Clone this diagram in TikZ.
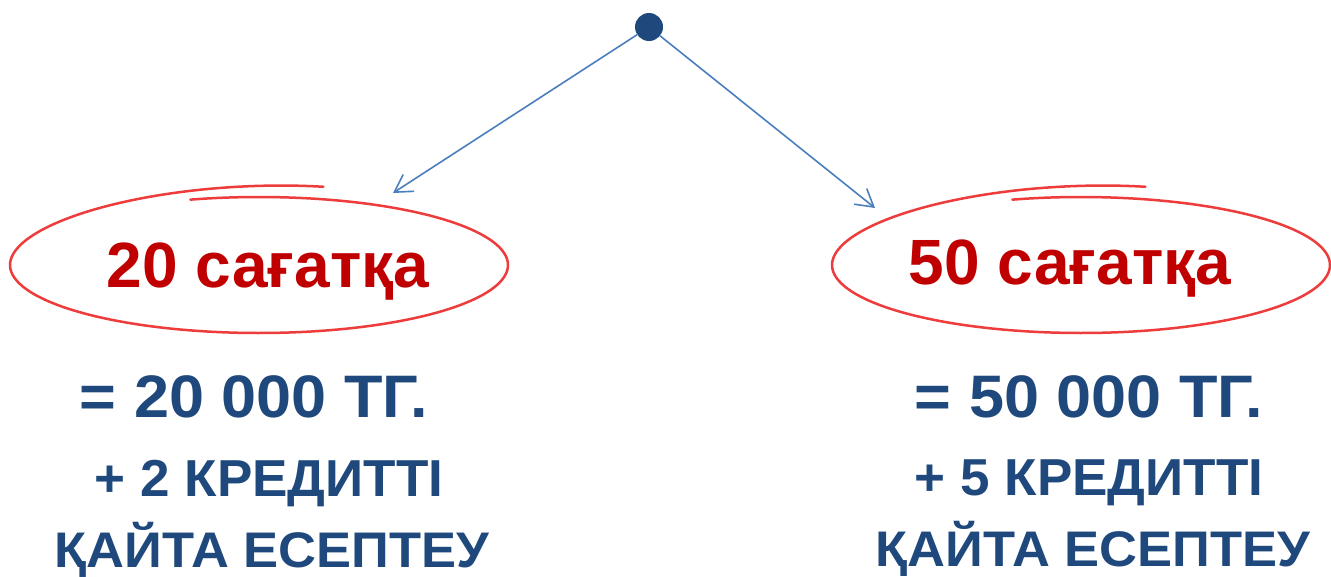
\documentclass[tikz,border=0pt]{standalone}
\usepackage{fontspec}
\setmainfont{Liberation Sans}
\newfontfamily\widea{Liberation Sans}[FakeStretch=1.05]
\newfontfamily\wideb{Liberation Sans}[FakeStretch=1.02]
\usetikzlibrary{arrows.meta}
\definecolor{navy}{HTML}{1F497D}
\definecolor{redtext}{HTML}{C00000}
\definecolor{arrowblue}{HTML}{4A7EBF}
\definecolor{ellred}{HTML}{EE3B3B}
\newcommand\handellipse[2]{%
  \draw[ellstroke] plot[domain=-285:106, samples=160, smooth, variable=\t]
    ({#1+249*cos(\t)}, {#2-(68+13*max(0,(-\t-180)/105))*sin(\t)});}
\begin{document}
\begin{tikzpicture}[x=1pt,y=-1pt,
  redlbl/.style={inner sep=0pt, anchor=base, text=redtext, font=\bfseries\fontsize{64}{70}\selectfont},
  bluea/.style={inner sep=0pt, anchor=base, text=navy, font=\widea\bfseries\fontsize{60}{66}\selectfont},
  blueb/.style={inner sep=0pt, anchor=base, text=navy, font=\wideb\bfseries\fontsize{52}{58}\selectfont},
  bluec/.style={inner sep=0pt, anchor=base, text=navy, font=\widea\bfseries\fontsize{50}{56}\selectfont},
  ellstroke/.style={draw=ellred, line width=2.5pt, line cap=round},
  arr/.style={draw=arrowblue, line width=1.6pt, -{Straight Barb[length=17pt,width=20pt]}},
  dot/.style={circle, fill=navy, minimum size=28pt, inner sep=0pt}]
\useasboundingbox (0,0) rectangle (1331,576);
\fill[white] (0,0) rectangle (1331,576);
\handellipse{259}{265}
\handellipse{1081}{265}
\node[dot] (top) at (649,27) {};
\coordinate (tipL) at (393,193);
\coordinate (tipR) at (875,208);
\draw[arr] (top) -- (tipL);
\draw[arr] (top) -- (tipR);
\node[redlbl] (h20) at (268,287) {20 сағатқа};
\node[redlbl] (h50) at (1070,284) {50 сағатқа};
\node[bluea] (m20) at (254,417) {= 20 000 ТГ.};
\node[blueb] (c20) at (269,496) {+ 2 КРЕДИТТІ};
\node[bluec] (r20) at (272,567) {ҚАЙТА ЕСЕПТЕУ};
\node[bluea] (m50) at (1089,417) {= 50 000 ТГ.};
\node[blueb] (c50) at (1089,495) {+ 5 КРЕДИТТІ};
\node[bluec] (r50) at (1093,566) {ҚАЙТА ЕСЕПТЕУ};
\end{tikzpicture}
\end{document}
